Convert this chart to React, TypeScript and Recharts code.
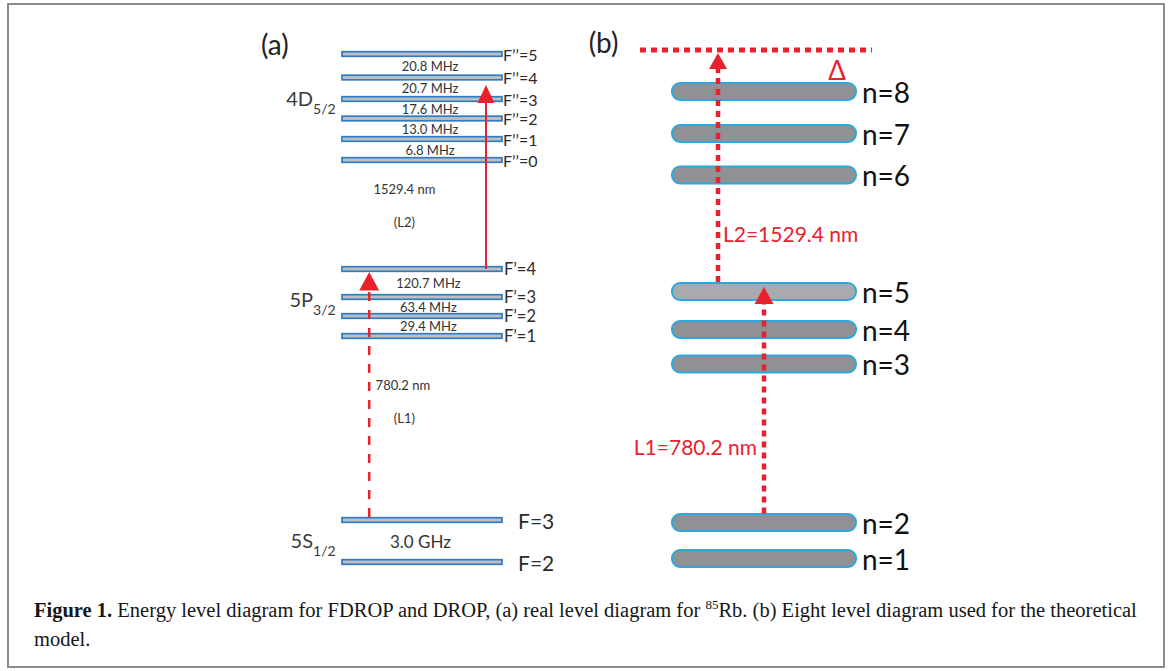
import React from "react";
import { ComposedChart, XAxis, YAxis, ReferenceLine, ReferenceDot } from "recharts";

// (a) 85Rb hyperfine manifolds, schematic heights in arbitrary units
const d52Levels = [50.8, 48.45, 46.3, 44.35, 42.3, 40.2];
const d52Names = ["F\u2019\u2019=5", "F\u2019\u2019=4", "F\u2019\u2019=3", "F\u2019\u2019=2", "F\u2019\u2019=1", "F\u2019\u2019=0"];
const d52Gaps = ["20.8 MHz", "20.7 MHz", "17.6 MHz", "13.0 MHz", "6.8 MHz"];

const p32Levels = [29.3, 26.5, 24.6, 22.6];
const p32Names = ["F\u2019=4", "F\u2019=3", "F\u2019=2", "F\u2019=1"];
const p32Gaps = ["120.7 MHz", "63.4 MHz", "29.4 MHz"];

const s12Levels = [4.2, 0];
const s12Names = ["F=3", "F=2"];
const s12Gaps = ["3.0 GHz"];

// (b) eight level model + the detuned virtual level
const modelLevels = [46.7, 42.5, 38.35, 26.7, 22.9, 19.45, 3.6, 0];
const modelNames = ["n=8", "n=7", "n=6", "n=5", "n=4", "n=3", "n=2", "n=1"];
const virtualLevel = 50.85;

const RED = "#e8222c";
const FONT = "Lato, 'Open Sans', sans-serif";

type Seg = { x1: number; y1: number; x2: number; y2: number };
type Dot = { cx: number; cy: number };

type BarOpts = {
  h: number;
  rx: number;
  fill: string;
  stroke: string;
  sw: number;
  label: string;
  size: number;
  gap: number;
  color: string;
};

// a level: outlined bar between the two segment ends, name to its right
function levelBar(o: BarOpts) {
  return (p: Seg) => (
    <g>
      <rect
        x={p.x1}
        y={p.y1 - o.h / 2}
        width={p.x2 - p.x1}
        height={o.h}
        rx={o.rx}
        fill={o.fill}
        stroke={o.stroke}
        strokeWidth={o.sw}
      />
      <text
        x={p.x2 + o.gap}
        y={p.y1}
        dominantBaseline="central"
        fontSize={o.size}
        fill={o.color}
        fontFamily={FONT}
      >
        {o.label}
      </text>
    </g>
  );
}

type ArrowOpts = {
  width: number;
  dash?: string;
  headLen: number;
  headW: number;
  startGap: number;
  endGap: number;
};

// vertical laser arrow from level (x1,y1) up to level (x2,y2)
function laser(o: ArrowOpts) {
  return (p: Seg) => {
    const dir = p.y2 < p.y1 ? -1 : 1;
    const ys = p.y1 + dir * o.startGap;
    const tip = p.y2 - dir * o.endGap;
    const base = tip - dir * o.headLen;
    return (
      <g>
        <line x1={p.x1} y1={ys} x2={p.x2} y2={base} stroke={RED} strokeWidth={o.width} strokeDasharray={o.dash} />
        <polygon
          points={`${p.x2},${tip} ${p.x2 - o.headW / 2},${base} ${p.x2 + o.headW / 2},${base}`}
          fill={RED}
        />
      </g>
    );
  };
}

function note(text: React.ReactNode, size: number, color: string, anchor: "start" | "middle" | "end" = "middle") {
  return (p: Dot) => (
    <text
      x={p.cx}
      y={p.cy}
      textAnchor={anchor}
      dominantBaseline="central"
      fontSize={size}
      fill={color}
      fontFamily={FONT}
    >
      {text}
    </text>
  );
}

// term symbol with subscript, right-aligned at the anchor
function term(main: string, sub: string) {
  return (p: Dot) => (
    <text x={p.cx} y={p.cy + 7} textAnchor="end" fontFamily={FONT} fill="#3a3a3a">
      <tspan fontSize={20}>{main}</tspan>
      <tspan fontSize={14} dy={8}>
        {sub}
      </tspan>
    </text>
  );
}

const smallBar = { h: 4.6, rx: 0, fill: "#bcbec1", stroke: "#2f7cc5", sw: 1.7, color: "#2b2b2b" };

function manifold(levels: number[], names: string[], gaps: string[], size: number, gap: number, gapX: number) {
  return (
    <>
      {levels.map((v, i) => (
        <ReferenceLine
          key={`l${i}`}
          segment={[
            { x: 0, y: v },
            { x: 1, y: v },
          ]}
          shape={levelBar({ ...smallBar, gap, label: names[i], size })}
        />
      ))}
      {gaps.map((g, i) => (
        <ReferenceDot
          key={`g${i}`}
          x={gapX}
          y={(levels[i] + levels[i + 1]) / 2}
          r={0}
          shape={note(g, g.includes("GHz") ? 17 : 13, "#333")}
        />
      ))}
    </>
  );
}

function PanelA() {
  return (
    <ComposedChart width={320} height={560} margin={{ top: 0, right: 0, bottom: 0, left: 0 }}>
      <XAxis type="number" dataKey="x" domain={[-0.5, 1.5]} allowDataOverflow hide />
      <YAxis type="number" dataKey="y" domain={[-1.8, 54.2]} allowDataOverflow hide />

      <ReferenceDot x={-0.42} y={51.8} r={0} shape={note("(a)", 28, "#222")} />

      {manifold(d52Levels, d52Names, d52Gaps, 16, 1, 0.55)}
      {manifold(p32Levels, p32Names, p32Gaps, 16.5, 2, 0.54)}
      {manifold(s12Levels, s12Names, s12Gaps, 21, 16, 0.49)}

      <ReferenceDot x={-0.04} y={d52Levels[2]} r={0} shape={term("4D", "5/2")} />
      <ReferenceDot x={-0.04} y={p32Levels[1] - 0.3} r={0} shape={term("5P", "3/2")} />
      <ReferenceDot x={-0.04} y={(s12Levels[0] + s12Levels[1]) / 2} r={0} shape={term("5S", "1/2")} />

      {/* L1: 5S F=3 -> 5P F'=4, dashed */}
      <ReferenceLine
        segment={[
          { x: 0.17, y: s12Levels[0] },
          { x: 0.17, y: p32Levels[0] },
        ]}
        shape={laser({ width: 2.5, dash: "9 9", headLen: 18.5, headW: 20, startGap: 3, endGap: 3 })}
      />
      {/* L2: 5P F'=4 -> 4D, solid */}
      <ReferenceLine
        segment={[
          { x: 0.9, y: p32Levels[0] },
          { x: 0.9, y: d52Levels[1] },
        ]}
        shape={laser({ width: 2, headLen: 18, headW: 17, startGap: 0, endGap: 7.5 })}
      />

      <ReferenceDot x={0.39} y={37.3} r={0} shape={note("1529.4 nm", 13, "#333")} />
      <ReferenceDot x={0.39} y={34.0} r={0} shape={note("(L2)", 13, "#333")} />
      <ReferenceDot x={0.21} y={17.7} r={0} shape={note("780.2 nm", 13, "#333", "start")} />
      <ReferenceDot x={0.39} y={14.4} r={0} shape={note("(L1)", 13, "#333")} />
    </ComposedChart>
  );
}

function PanelB() {
  return (
    <ComposedChart width={368} height={560} margin={{ top: 0, right: 0, bottom: 0, left: 0 }}>
      <XAxis type="number" dataKey="x" domain={[-0.5, 1.5]} allowDataOverflow hide />
      <YAxis type="number" dataKey="y" domain={[-2.15, 53.85]} allowDataOverflow hide />

      <ReferenceDot x={-0.372} y={51.65} r={0} shape={note("(b)", 28, "#222")} />

      {modelLevels.map((v, i) => (
        <ReferenceLine
          key={i}
          segment={[
            { x: 0, y: v },
            { x: 1, y: v },
          ]}
          shape={levelBar({
            h: 17,
            rx: 8,
            fill: modelNames[i] === "n=5" ? "#a8aaad" : "#8f9194",
            stroke: "#2ba8e0",
            sw: 2,
            label: modelNames[i],
            size: 28,
            gap: 6,
            color: "#111",
          })}
        />
      ))}

      {/* detuned two-photon level */}
      <ReferenceLine
        segment={[
          { x: -0.174, y: virtualLevel },
          { x: 1.087, y: virtualLevel },
        ]}
        stroke={RED}
        strokeWidth={5}
        strokeDasharray="6 5"
      />
      <ReferenceDot x={0.897} y={48.85} r={0} shape={note("\u0394", 26, RED)} />

      <ReferenceLine
        segment={[
          { x: 0.25, y: modelLevels[3] },
          { x: 0.25, y: virtualLevel },
        ]}
        shape={laser({ width: 4.5, dash: "6 5", headLen: 16, headW: 18, startGap: 9.5, endGap: 3 })}
      />
      <ReferenceLine
        segment={[
          { x: 0.5, y: modelLevels[6] },
          { x: 0.5, y: modelLevels[3] },
        ]}
        shape={laser({ width: 4.5, dash: "6 5", headLen: 17, headW: 19, startGap: 9, endGap: -4.5 })}
      />

      <ReferenceDot x={0.277} y={32.55} r={0} shape={note("L2=1529.4 nm", 21, RED, "start")} />
      <ReferenceDot x={0.462} y={11.18} r={0} shape={note("L1=780.2 nm", 21, RED, "end")} />
    </ComposedChart>
  );
}

export default function App() {
  return (
    <div style={{ position: "absolute", left: 0, top: 0, width: 1170, height: 671, background: "#fff" }}>
      <div
        style={{
          position: "absolute",
          left: 7,
          top: 3,
          width: 1158,
          height: 665,
          border: "2px solid #8c8c8c",
          boxSizing: "border-box",
        }}
      />
      <div style={{ position: "absolute", left: 262, top: 20 }}>
        <PanelA />
      </div>
      <div style={{ position: "absolute", left: 580, top: 20 }}>
        <PanelB />
      </div>
      <div
        style={{
          position: "absolute",
          left: 34,
          top: 597,
          width: 1125,
          fontFamily: "'Liberation Serif', serif",
          fontSize: 20.5,
          lineHeight: "26px",
          color: "#161616",
          whiteSpace: "nowrap",
        }}
      >
        <b>Figure 1.</b> Energy level diagram for FDROP and DROP, (a) real level diagram for{" "}
        <span style={{ fontSize: 13, position: "relative", top: -8 }}>85</span>Rb. (b) Eight level diagram used for the
        theoretical
        <br />
        model.
      </div>
    </div>
  );
}
